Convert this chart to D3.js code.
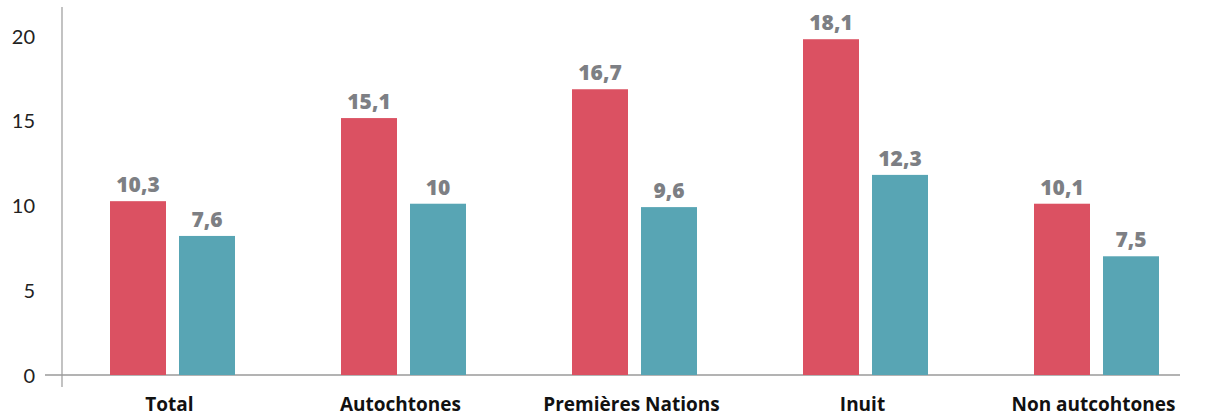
<!DOCTYPE html>
<html>
<head>
<meta charset="utf-8">
<script src="https://cdn.jsdelivr.net/npm/d3@7"></script>
<style>
  html, body { margin: 0; padding: 0; background: #fff; }
  svg { display: block; }
  text { font-family: "Open Sans", Lato, sans-serif; }
</style>
</head>
<body>
<svg id="chart" width="1225" height="417"></svg>
<script>
const categories = ["Total", "Autochtones", "Premières Nations", "Inuit", "Non autcohtones"];
// bar heights as drawn in the picture
const redValues  = [10.25, 15.15, 16.85, 19.8, 10.1];
const tealValues = [8.2, 10.1, 9.9, 11.8, 7.0];
// value labels as printed above the bars
const redLabels  = ["10,3", "15,1", "16,7", "18,1", "10,1"];
const tealLabels = ["7,6", "10", "9,6", "12,3", "7,5"];
const yTicks = [0, 5, 10, 15, 20];

const colors = { red: "#DB5162", teal: "#58A5B4" };

const svg = d3.select("#chart");
const y = d3.scaleLinear().domain([0, 21.7]).range([375, 7]);
const x = d3.scalePoint().domain(categories).range([172.5, 1096.5]);
const barW = 56, gap = 13;

// axes lines
svg.append("line").attr("x1", 45).attr("x2", 1180).attr("y1", y(0)).attr("y2", y(0))
  .attr("stroke", "#9a9a9a").attr("stroke-width", 1.5);
svg.append("line").attr("x1", 62).attr("x2", 62).attr("y1", y(0) + 12).attr("y2", y(21.7))
  .attr("stroke", "#9a9a9a").attr("stroke-width", 1.2);

// y axis labels
const yAxis = d3.axisLeft(y).tickValues(yTicks).tickSize(0).tickPadding(0);
const gy = svg.append("g").attr("transform", "translate(35,0)").call(yAxis);
gy.select(".domain").remove();
gy.selectAll("text").attr("font-size", 20).attr("fill", "#222").attr("dy", "0.36em")
  .style("font-family", "Lato, sans-serif");

const series = [
  { vals: redValues, labels: redLabels, color: colors.red, off: -(barW + gap / 2) },
  { vals: tealValues, labels: tealLabels, color: colors.teal, off: gap / 2 }
];

series.forEach(s => {
  svg.append("g").selectAll("rect").data(categories).join("rect")
    .attr("x", (c) => x(c) + s.off)
    .attr("y", (c, i) => y(s.vals[i]))
    .attr("width", barW)
    .attr("height", (c, i) => y(0) - y(s.vals[i]))
    .attr("fill", s.color);
  svg.append("g").selectAll("text").data(categories).join("text")
    .attr("x", (c) => x(c) + s.off + barW / 2)
    .attr("y", (c, i) => y(s.vals[i]) - 9)
    .attr("text-anchor", "middle")
    .attr("font-size", 21).attr("font-weight", 800)
    .attr("fill", "#7d7f84")
    .text((c, i) => s.labels[i]);
});

// category labels
svg.append("g").selectAll("text").data(categories).join("text")
  .attr("x", c => x(c) - 3)
  .attr("y", 411)
  .attr("text-anchor", "middle")
  .attr("font-size", 19).attr("font-weight", 700)
  .attr("fill", "#111")
  .text(c => c);
</script>
</body>
</html>
